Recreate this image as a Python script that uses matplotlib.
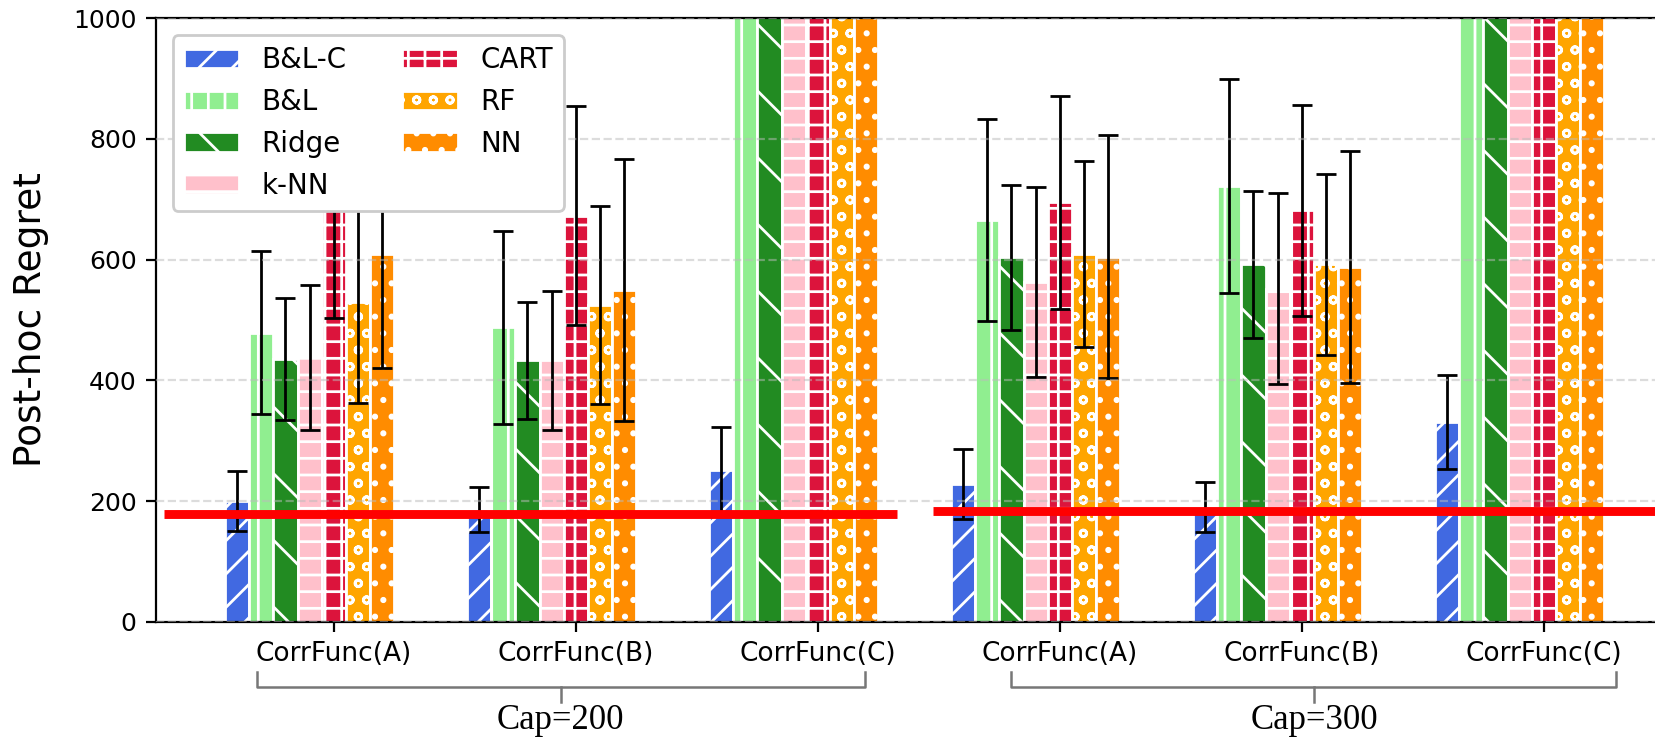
import matplotlib
matplotlib.use("Agg")
import matplotlib.pyplot as plt
import numpy as np

# ---------------- data ----------------
groups = ["CorrFunc(A)", "CorrFunc(B)", "CorrFunc(C)",
          "CorrFunc(A)", "CorrFunc(B)", "CorrFunc(C)"]
methods = ["B&L-C", "B&L", "Ridge", "k-NN", "CART", "RF", "NN"]

blc_mean = [200, 186, 252, 229, 190, 331]
blc_err = [49, 38, 71, 58, 41, 78]
bl_mean = [479, 488, 1800, 666, 722, 1800]
bl_err = [135, 160, 300, 167, 177, 300]
ridge_mean = [435, 433, 1800, 604, 592, 1800]
ridge_err = [101, 97, 300, 120, 122, 300]
knn_mean = [438, 433, 1800, 563, 552, 1800]
knn_err = [120, 115, 300, 158, 158, 300]
cart_mean = [682, 673, 1800, 695, 682, 1800]
cart_err = [179, 181, 300, 176, 175, 300]
rf_mean = [530, 525, 1800, 610, 592, 1800]
rf_err = [167, 164, 300, 154, 150, 300]
nn_mean = [609, 550, 1800, 605, 588, 1800]
nn_err = [188, 217, 300, 201, 192, 300]

baseline_cap200 = 178.5
baseline_cap300 = 183.5
cap_labels = ["Cap=200", "Cap=300"]

means = [blc_mean, bl_mean, ridge_mean, knn_mean, cart_mean, rf_mean, nn_mean]
errs = [blc_err, bl_err, ridge_err, knn_err, cart_err, rf_err, nn_err]

colors = ["royalblue", "lightgreen", "forestgreen", "pink", "crimson", "orange", "darkorange"]
hatches = ["//", "||", "\\", "--", "++", "oo", ".."]

# ---------------- figure ----------------
W, H, DPI = 1655, 740, 200
fig = plt.figure(figsize=(W / DPI, H / DPI), dpi=DPI)
ax_left = 156 / W
ax_bottom = (H - 621.7) / H
ax_height = (621.7 - 18.3) / H
ax_width = (6.27 * 242) / W
ax = fig.add_axes([ax_left, ax_bottom, ax_width, ax_height])

x = np.arange(len(groups))
w = 0.1
for j, (m, e, c, h, lab) in enumerate(zip(means, errs, colors, hatches, methods)):
    ax.bar(x + (j - 4) * w, m, w, yerr=e, color=c, hatch=h, edgecolor="white",
           linewidth=1.0, label=lab, capsize=3.5,
           error_kw=dict(elinewidth=1.0, capthick=1.0, ecolor="black"))

ax.set_xlim(-0.735, 5.535)
ax.set_ylim(0, 1000)
ax.set_xticks(x)
ax.set_xticklabels(groups, fontsize=9.5)
ax.tick_params(axis="y", labelsize=9)
ax.set_ylabel("Post-hoc Regret", fontsize=13.5, labelpad=8.5)

ax.set_axisbelow(False)
ax.yaxis.grid(True, linestyle="--", color="#bbbbbb", alpha=0.5, linewidth=0.8)

# baseline lines
ax.hlines(baseline_cap200, -0.704, 2.325, colors="red", linewidth=3.2, zorder=4,
          capstyle="butt")
ax.hlines(baseline_cap300, 2.477, 5.6, colors="red", linewidth=3.2, zorder=4,
          capstyle="butt")

ax.legend(loc="upper left", ncol=2, fontsize=10, borderaxespad=0.6, framealpha=1.0)

# braces with cap labels
tr = ax.get_xaxis_transform()
brace_spans = [(-0.318, 2.194), (2.80, 5.30)]
for (a, b), lab in zip(brace_spans, cap_labels):
    mid = (a + b) / 2
    kw = dict(transform=tr, clip_on=False, color="#777777", linewidth=0.9)
    ax.plot([a, a, b, b], [-0.084, -0.108, -0.108, -0.084], **kw)
    ax.plot([mid, mid], [-0.108, -0.133], **kw)
    ax.text(mid, -0.163, lab, transform=tr, ha="center", va="center",
            fontsize=12.5, fontfamily="Liberation Serif")

fig.savefig("out.png", dpi=DPI)
